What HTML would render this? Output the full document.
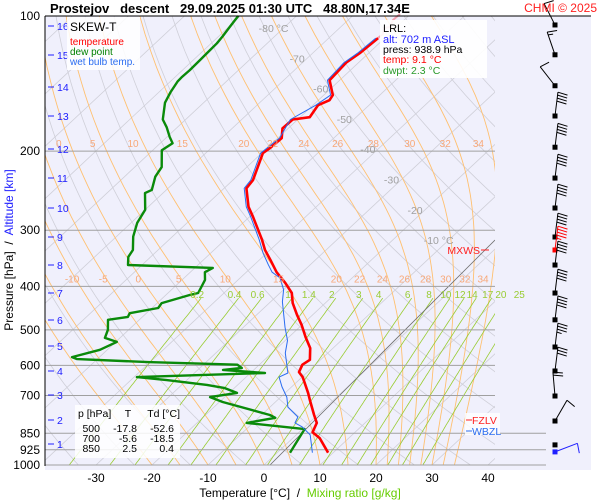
<!DOCTYPE html>
<html><head><meta charset="utf-8">
<style>
html,body{margin:0;padding:0;background:#fff;}
svg{display:block;font-family:"Liberation Sans",sans-serif;}
</style></head>
<body>
<svg id="chart" width="600" height="500" viewBox="0 0 600 500" xmlns="http://www.w3.org/2000/svg">
  <rect x="45" y="16" width="546" height="454" fill="#f0f0fc"/>
  <defs><clipPath id="clip"><rect x="45" y="16" width="450" height="449"/></clipPath></defs>
  <g id="grid" clip-path="url(#clip)"></g>
  <g id="plines"></g>
  <g id="series" clip-path="url(#clip2)"></g>
  <defs><clipPath id="clip2"><rect x="45" y="14" width="450" height="452"/></clipPath></defs>
  <g id="labels"></g>
  <g id="barbs"></g>
  <line x1="45" y1="16" x2="45" y2="466" stroke="#000" stroke-width="1"/>
  <line x1="45" y1="16" x2="591" y2="16" stroke="#000" stroke-width="1"/>
  <text x="50" y="13" font-size="13" font-weight="bold" xml:space="preserve">Prostejov   descent   29.09.2025 01:30 UTC   48.80N,17.34E</text>
  <text x="597" y="12" font-size="12" fill="#ff2020" text-anchor="end">CHMI © 2025</text>
  <text transform="translate(13,250) rotate(-90)" font-size="12" text-anchor="middle" xml:space="preserve"><tspan fill="#000">Pressure [hPa]</tspan><tspan fill="#000">  /  </tspan><tspan fill="#2020ff">Altitude [km]</tspan></text>
  <text x="300" y="497" font-size="12" text-anchor="middle" xml:space="preserve"><tspan fill="#000">Temperature [°C]  /  </tspan><tspan fill="#66cc00">Mixing ratio [g/kg]</tspan></text>
  <g>
    <rect x="67" y="17" width="73" height="53" fill="#fff" opacity="0.85"/>
    <text x="70" y="31" font-size="12">SKEW-T</text>
    <text x="70" y="45" font-size="10" fill="#ff0000">temperature</text>
    <text x="70" y="55" font-size="10" fill="#008000">dew point</text>
    <text x="70" y="65" font-size="10" fill="#2a6cf0">wet bulb temp.</text>
  </g>
  <g>
    <rect x="380" y="20" width="107" height="58" fill="#fff" opacity="0.9"/>
    <text x="383" y="32" font-size="11">LRL:</text>
    <text x="383" y="43" font-size="11" fill="#2020ff">alt: 702 m ASL</text>
    <text x="383" y="53" font-size="10.5">press: 938.9 hPa</text>
    <text x="383" y="63" font-size="10.5" fill="#ff0000">temp: 9.1 °C</text>
    <text x="383" y="74" font-size="10.5" fill="#2a9a2a">dwpt: 2.3 °C</text>
  </g>
  <g font-size="10.5">
    <rect x="75" y="405" width="105" height="53" fill="#fff" opacity="0.85"/>
    <text x="78" y="417">p [hPa]</text><text x="128" y="417" text-anchor="middle">T</text><text x="180" y="417" text-anchor="end">Td [°C]</text>
    <text x="100" y="432" text-anchor="end">500</text><text x="137" y="432" text-anchor="end">-17.8</text><text x="174" y="432" text-anchor="end">-52.6</text>
    <text x="100" y="442" text-anchor="end">700</text><text x="137" y="442" text-anchor="end">-5.6</text><text x="174" y="442" text-anchor="end">-18.5</text>
    <text x="100" y="452" text-anchor="end">850</text><text x="137" y="452" text-anchor="end">2.5</text><text x="174" y="452" text-anchor="end">0.4</text>
  </g>
  <g font-size="10.5">
    <line x1="481" y1="250" x2="489" y2="250" stroke="#ff2020"/>
    <text x="480" y="254" fill="#ff2020" text-anchor="end">MXWS</text>
    <rect x="465" y="413" width="35" height="22" fill="#fff" opacity="0.8"/>
    <line x1="466" y1="420" x2="472" y2="420" stroke="#ff2020"/>
    <text x="472" y="424" fill="#ff2020">FZLV</text>
    <line x1="466" y1="431" x2="472" y2="431" stroke="#2a6cf0"/>
    <text x="472" y="435" fill="#2a6cf0">WBZL</text>
  </g>
</svg>
<script>
// ---- data ----
const tP=[939,871,845,806,774,717,691,637,621,598,583,549,519,488,463,436,414,393,372,349,332,315,280,266,242,232,202,197,187,178,170,168,158,154,150,139,127,121,112];
const tT=[9.1,4.8,2.4,1.4,-0.6,-4.2,-5.9,-9.9,-11.5,-12.3,-11.9,-14.1,-17.0,-20.0,-22.8,-25.8,-27.9,-31.0,-34.6,-38.1,-40.9,-43.4,-49.4,-52.1,-56.0,-56.4,-59.8,-59.5,-59.3,-61.0,-60.9,-58.3,-59.1,-58.0,-58.4,-61.8,-62.2,-61.6,-61.2];
const wbP=[939,857,822,806,782,743,706,670,637,624,563,528,493,433,407,383,372,358,337,315,280,266,242,232,202,187,170,158,150,139,127,121,112];
const wbT=[6.3,2.5,-0.5,-2.5,-3.1,-6.8,-8.9,-11.7,-14.1,-13.3,-17.6,-19.6,-22.6,-27.9,-30.0,-32.9,-35.4,-37.5,-40.7,-43.9,-49.8,-52.5,-56.4,-56.8,-60.2,-59.7,-61.3,-59.5,-58.8,-62.2,-62.6,-62.0,-61.6];
const tdP=[939,832,806,785,774,724,706,691,674,663,647,637,624,614,608,598,590,581,575,554,532,521,500,475,468,459,447,436,418,414,387,372,364,358.5,344,332,310,289,270,248,244,228,217,199,192,186,177,170,156,148,140,137,132,125,120,115,111,106,100];
const tdT=[2.3,0.4,-11.1,-7.0,-8.5,-19.4,-22.6,-18.6,-21.7,-25.5,-33.6,-39.5,-17.4,-25.5,-22.5,-23.9,-40.4,-53.6,-54.9,-51.3,-49.8,-52.7,-53.7,-55.6,-52.6,-53.0,-48.9,-49.2,-45.7,-44.6,-45.9,-47.4,-46.8,-62.5,-64.0,-64.5,-67.0,-68.9,-70.0,-73.2,-72.6,-74.5,-75.2,-78.4,-77.8,-79.5,-81.9,-84.1,-86.9,-87.9,-88.7,-88.8,-88.7,-88.8,-88.9,-89.0,-89.3,-89.8,-90.4];
const windP=[104.7,122,143,167,196,229.6,267.7,310.6,332,358.6,414,475,546,617.5,702,798,902,935];
const windDir=[-27,-19,-38,7,7,7,7,7,7,7,7,7,7,7,-5,30,0,69];
const windSpd=[10,15,10,40,40,40,40,40,45,40,40,40,35,30,20,10,0,10];
const windColor=['#000','#000','#000','#000','#000','#000','#000','#000','#ff0000','#000','#000','#000','#000','#000','#000','#000','#000','#2020ff'];
const pLevels=[100,200,300,400,500,600,700,850,925,1000];
const xTicks=[-30,-20,-10,0,10,20,30,40];
const altKm=[16,15,14,13,12,11,10,9,8,7,6,5,4,3,2,1];
const altY=[27,56,88,117,150,179,209,238,266,294,321,347,372,396,421,445];
const isoLabels=[-80,-70,-60,-50,-40,-30,-20,-10];
const thetaW=[-20,-15,-10,-5,0,5,10,15,20,22,24,26,28,30,32,34];
const mixR=[0.2,0.4,0.6,1,1.4,2,3,4,6,8,10,12,14,17,20,25];

// ---- scales ----
const NS='http://www.w3.org/2000/svg';
function yP(p){return 16+(Math.log10(p)-2)*449;}
function pY(y){return Math.pow(10,2+(y-16)/449);}
function xT(T,p){return 264+5.6*T+1.07*(465-yP(p));}
function mk(tag,parent,attrs){const e=document.createElementNS(NS,tag);for(const k in attrs)e.setAttribute(k,attrs[k]);parent.appendChild(e);return e;}
const grid=document.getElementById('grid'),plines=document.getElementById('plines'),series=document.getElementById('series'),labels=document.getElementById('labels'),barbs=document.getElementById('barbs');
function pts(arr){return arr.map(a=>a[0].toFixed(1)+','+a[1].toFixed(1)).join(' ');}
const pGrid=[];for(let p=1000;p>=99;p-=10)pGrid.push(p);

// isotherms
for(let T=-140;T<=40;T+=10){
  const l=mk('line',grid,{x1:xT(T,1050),y1:yP(1050),x2:xT(T,100),y2:yP(100),stroke:'#cfcfd8','stroke-width':0.8});
  
  
}
// dry adiabats
for(let th=200;th<=470;th+=10){
  const a=pGrid.map(p=>[xT(th*Math.pow(p/1000,0.2857)-273.15,p),yP(p)]);
  const l=mk('polyline',grid,{points:pts(a),fill:'none',stroke:'#cfcfd8','stroke-width':0.8});
  
  
}
// moist adiabats
function es(T){return 6.112*Math.exp(17.67*(T-273.15)/(T-29.65));}
thetaW.forEach(tw=>{
  let T=tw+273.15,a=[];
  for(let p=1000;p>=100;p-=2){
    if(p%10===0)a.push([xT(T-273.15,p),yP(p)]);
    const e=es(T),rs=0.622*e/(p-e);
    const dTdp=(287*T+2.5e6*rs)/(p*(1005+2.5e6*2.5e6*rs*0.622/(287*T*T)));
    T-=2*dTdp;
  }
  const l=mk('polyline',grid,{points:pts(a),fill:'none',stroke:'#ffc070','stroke-width':0.9});
  
  
  if(tw<-10)return;
  [[200,-14],[400,-8]].forEach(([pl,off])=>{
    const idx=Math.round((1000-pl)/10);const pt=a[idx];
    const lx=pt?pt[0]+off:0;
    if(pt && lx>48 && lx<492){
      const t=mk('text',labels,{x:lx,y:yP(pl)-4,'font-size':10,fill:'#f8a878','text-anchor':'middle'});
      t.textContent=tw;
      
      
    }
  });
});
// mixing ratio lines
mixR.forEach(w=>{
  const a=[];
  for(let p=1000;p>=425;p-=5){const e=p*w/(622+w),L=Math.log(e/6.112);a.push([xT(243.5*L/(17.67-L),p),yP(p)]);}
  const l=mk('polyline',grid,{points:pts(a),fill:'none',stroke:'#99cc33','stroke-width':0.8});
  
  
  const top=a[a.length-1];
  const t=mk('text',labels,{x:top[0]-4,y:298,'font-size':10,fill:'#99cc33','text-anchor':'middle'});
  t.textContent=w;
  
  
});
// surface adiabat guide line
const gl=mk('line',grid,{x1:495,y1:240,x2:265,y2:470,stroke:'#707070','stroke-width':0.8});


// isotherm labels
isoLabels.forEach(T=>{
  const y=28+(T+80)*3.03;
  const x=xT(T,pY(y))-10;
  const t=mk('text',labels,{x:x,y:y+4,'font-size':10.5,fill:'#a0a0a0','text-anchor':'middle'});
  t.textContent=(T===-80||T===-10)?T+' °C':T;
  
  
});
// pressure lines & labels
pLevels.forEach(p=>{
  const y=yP(p);
  if(p>100){
    const l=mk('line',plines,{x1:45,y1:y,x2:(p>=850?546:495),y2:y,stroke:'#a0a0a0','stroke-width':1});
    
    
  }
  const t=mk('text',labels,{x:40,y:y+4,'font-size':12,'text-anchor':'end',fill:'#000'});
  t.textContent=p;
  
  
});
// altitude ticks
altKm.forEach((k,i)=>{
  mk('line',labels,{x1:48,y1:altY[i]-1,x2:54,y2:altY[i]-1,stroke:'#2020ff','stroke-width':1});
  const t=mk('text',labels,{x:57,y:altY[i]+3,'font-size':10.5,fill:'#2020ff'});
  t.textContent=k;
  
  
});
// x ticks
xTicks.forEach(T=>{
  const t=mk('text',labels,{x:xT(T,1000),y:482,'font-size':12,'text-anchor':'middle'});
  t.textContent=T;
  
  
});
// series
function line(P,T,color,w,name){
  const a=P.map((p,i)=>[xT(T[i],p),yP(p)]);
  const l=mk('polyline',series,{points:pts(a),fill:'none',stroke:color,'stroke-width':w,'stroke-linejoin':'round'});
  
  
}
line(tdP,tdT,'#0a8a0a',2.4,'dew-point-line');
line(tP,tT,'#ff0000',2.6,'temperature-line');
line(wbP,wbT,'#2a6cf0',1,'wet-bulb-line');
const pk=mk('polyline',labels,{points:'378,38 383,34 384,28 390,27 393,20 400,14',fill:'none',stroke:'#f4a0b0','stroke-width':2});


// wind barbs
windP.forEach((p,i)=>{
  const x=555,y=yP(p),c=windColor[i];
  const g=mk('g',barbs,{});
  
  
  mk('rect',g,{x:x-2.5,y:y-2.5,width:5,height:5,fill:c});
  if(windSpd[i]<=0)return;
  const a=windDir[i]*Math.PI/180,L=24;
  const tx=x+L*Math.sin(a),ty=y-L*Math.cos(a);
  mk('line',g,{x1:x,y1:y,x2:tx,y2:ty,stroke:c,'stroke-width':1});
  const ba=a+100*Math.PI/180;
  let s=windSpd[i],k=0;
  while(s>=5){
    const len=s>=10?10:5;
    const bx=tx-3*k*Math.sin(a),by=ty+3*k*Math.cos(a);
    mk('line',g,{x1:bx,y1:by,x2:bx+len*Math.sin(ba),y2:by-len*Math.cos(ba),stroke:c,'stroke-width':1});
    s-=len;k++;
  }
});
</script>
</body></html>
